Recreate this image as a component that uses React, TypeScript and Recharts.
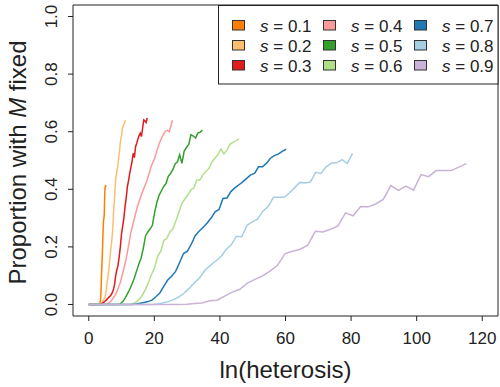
import { LineChart, Line, XAxis, YAxis, Legend, ReferenceArea } from "recharts";

// selection coefficients and their colours (Paired palette)
const sLabels = ["0.1", "0.2", "0.3", "0.4", "0.5", "0.6", "0.7", "0.8", "0.9"];
const colors = ["#FF7F00", "#FDBF6F", "#E31A1C", "#FB9A99", "#33A02C", "#B2DF8A", "#1F78B4", "#A6CEE3", "#CAB2D6"];

// ln(heterosis) added per fixed locus, for each s
const lnStep = [0.105, 0.223, 0.357, 0.511, 0.693, 0.916, 1.204, 1.609, 2.303];

// proportion with M fixed, for 0..50 loci
const prop01 = [0, 0, 0, 0, 0, 0, 0, 0, 0, 0, 0, 0, 0, 0, 0, 0, 0, 0, 0, 0, 0, 0, 0, 0, 0, 0, 0, 0, 0, 0, 0,
  0.001, 0.003, 0.007, 0.015, 0.03, 0.06, 0.1, 0.13, 0.16, 0.19, 0.23, 0.27, 0.29, 0.3, 0.31, 0.36, 0.4, 0.41, 0.41, 0.415];
const prop02 = [0, 0, 0, 0, 0, 0, 0, 0, 0, 0, 0, 0, 0, 0, 0,
  0.001, 0.003, 0.005, 0.007, 0.01, 0.015, 0.02, 0.025, 0.035, 0.05, 0.075, 0.09, 0.11, 0.135, 0.165, 0.188, 0.21, 0.235,
  0.27, 0.32, 0.36, 0.4, 0.44, 0.455, 0.47, 0.485, 0.51, 0.53, 0.56, 0.575, 0.59, 0.612, 0.62, 0.625, 0.63, 0.64];
const prop03 = [0, 0, 0, 0, 0, 0, 0, 0, 0, 0,
  0.001, 0.003, 0.005, 0.008, 0.012, 0.015, 0.02, 0.025, 0.028, 0.033, 0.04, 0.05, 0.068, 0.1, 0.12, 0.135, 0.165, 0.2,
  0.245, 0.272, 0.3, 0.34, 0.37, 0.409, 0.43, 0.455, 0.476, 0.497, 0.525, 0.51, 0.548, 0.56, 0.575, 0.587, 0.595, 0.583,
  0.612, 0.641, 0.638, 0.632, 0.648];
const prop04 = [0, 0, 0, 0, 0, 0, 0, 0, 0, 0, 0,
  0.002, 0.006, 0.01, 0.018, 0.025, 0.035, 0.048, 0.063, 0.08, 0.103, 0.125, 0.15, 0.18, 0.211, 0.246, 0.27, 0.293, 0.316,
  0.339, 0.357, 0.374, 0.39, 0.405, 0.42, 0.435, 0.455, 0.475, 0.49, 0.502, 0.52, 0.54, 0.557, 0.572, 0.585, 0.595, 0.603,
  0.605, 0.6, 0.62, 0.64];
const prop05 = [0, 0, 0, 0, 0, 0, 0, 0, 0, 0, 0, 0, 0, 0,
  0.003, 0.01, 0.022, 0.037, 0.052, 0.07, 0.09, 0.115, 0.14, 0.16, 0.195, 0.238, 0.252, 0.262, 0.275, 0.32, 0.355, 0.38,
  0.395, 0.41, 0.42, 0.445, 0.455, 0.468, 0.488, 0.495, 0.52, 0.49, 0.533, 0.545, 0.556, 0.59, 0.585, 0.578, 0.595, 0.598, 0.606];
const prop06 = [0, 0, 0, 0, 0, 0, 0, 0, 0, 0, 0, 0, 0, 0,
  0.001, 0.004, 0.01, 0.02, 0.035, 0.055, 0.08, 0.107, 0.13, 0.168, 0.185, 0.223, 0.229, 0.252, 0.262, 0.29, 0.32, 0.35,
  0.367, 0.38, 0.398, 0.405, 0.432, 0.432, 0.45, 0.463, 0.472, 0.495, 0.508, 0.52, 0.54, 0.523, 0.535, 0.556, 0.563, 0.568, 0.575];
const prop07 = [0, 0, 0, 0, 0, 0, 0, 0, 0, 0, 0, 0,
  0.002, 0.004, 0.007, 0.01, 0.015, 0.027, 0.04, 0.063, 0.085, 0.098, 0.115, 0.145, 0.177, 0.185, 0.21, 0.24, 0.255, 0.268,
  0.283, 0.3, 0.322, 0.33, 0.368, 0.37, 0.392, 0.405, 0.415, 0.426, 0.438, 0.45, 0.455, 0.478, 0.478, 0.49, 0.508, 0.517,
  0.522, 0.532, 0.539];
const prop08 = [0, 0, 0, 0, 0, 0, 0, 0, 0, 0, 0, 0, 0,
  0.002, 0.005, 0.01, 0.016, 0.025, 0.038, 0.055, 0.075, 0.092, 0.118, 0.135, 0.15, 0.165, 0.19, 0.207, 0.237, 0.235, 0.275,
  0.287, 0.296, 0.324, 0.34, 0.372, 0.372, 0.372, 0.387, 0.405, 0.424, 0.422, 0.425, 0.459, 0.455, 0.478, 0.491, 0.492,
  0.503, 0.49, 0.525];
const prop09 = [0, 0, 0, 0, 0, 0, 0, 0, 0, 0, 0, 0, 0,
  0.001, 0.003, 0.005, 0.013, 0.015, 0.029, 0.043, 0.053, 0.074, 0.087, 0.099, 0.116, 0.136, 0.177, 0.185, 0.192, 0.206,
  0.254, 0.252, 0.261, 0.273, 0.318, 0.308, 0.34, 0.339, 0.349, 0.365, 0.413, 0.396, 0.411, 0.397, 0.451, 0.444, 0.465,
  0.465, 0.465, 0.477, 0.489];

const xTicks = [0, 20, 40, 60, 80, 100, 120];
const yTicks = [0, 0.2, 0.4, 0.6, 0.8, 1.0];

const allProps = [prop01, prop02, prop03, prop04, prop05, prop06, prop07, prop08, prop09];
const seriesData = allProps.map((ys, k) => ys.map((y, i) => ({ x: i * lnStep[k], y })));

const FONT = "'Liberation Sans', Arial, sans-serif";
const INK = "#222";

function XTick({ x, y, payload }: any) {
  return (
    <text x={x} y={y + 21} textAnchor="middle" fontSize={17} fontFamily={FONT} fill={INK}>
      {payload.value}
    </text>
  );
}

function YTick({ x, y, payload }: any) {
  const bx = x - 9;
  return (
    <text x={bx} y={y} transform={`rotate(-90, ${bx}, ${y})`} textAnchor="middle" fontSize={17} fontFamily={FONT} fill={INK}>
      {Number(payload.value).toFixed(1)}
    </text>
  );
}

function XTitle({ viewBox }: any) {
  const cx = viewBox.x + viewBox.width / 2;
  return (
    <text x={cx} y={378} textAnchor="middle" fontSize={24} fontFamily={FONT} fill={INK}>
      ln(heterosis)
    </text>
  );
}

function YTitle({ viewBox }: any) {
  const cy = viewBox.y + viewBox.height / 2 + 2;
  return (
    <text x={26} y={cy} transform={`rotate(-90, 26, ${cy})`} textAnchor="middle" fontSize={24} fontFamily={FONT} fill={INK}>
      Proportion with <tspan fontStyle="italic">M</tspan> fixed
    </text>
  );
}

function LegendBox() {
  return (
    <svg width={281} height={80} style={{ display: "block" }}>
      <rect x={0.5} y={0.5} width={279.5} height={78.5} fill="#fff" stroke={INK} />
      {sLabels.map((s, i) => {
        const col = Math.floor(i / 3);
        const row = i % 3;
        return (
          <g key={s}>
            <rect x={14.5 + col * 91} y={15.5 + row * 20} width={12} height={9.5} fill={colors[i]} stroke="#333" />
            <text x={42 + col * 91} y={26.5 + row * 20} fontSize={17} fontFamily={FONT} fill={INK}>
              <tspan fontStyle="italic">s</tspan> = {s}
            </text>
          </g>
        );
      })}
    </svg>
  );
}

export default function App() {
  return (
    <div style={{ position: "absolute", left: 0, top: 0, background: "#fff" }}>
      <LineChart width={500} height={387} margin={{ top: 5, right: 2, left: 0, bottom: 0 }}>
        <XAxis
          type="number"
          dataKey="x"
          domain={[-4.8, 124.8]}
          ticks={xTicks}
          allowDataOverflow
          axisLine={false}
          tickSize={5}
          tickLine={{ stroke: INK }}
          tick={<XTick />}
          height={71}
          label={<XTitle />}
        />
        <YAxis
          type="number"
          domain={[-0.04, 1.04]}
          ticks={yTicks}
          allowDataOverflow
          axisLine={false}
          tickSize={5}
          tickLine={{ stroke: INK }}
          tick={<YTick />}
          width={73}
          label={<YTitle />}
        />
        <ReferenceArea x1={-4.8} x2={124.8} y1={-0.04} y2={1.04} fill="none" stroke={INK} strokeWidth={1} />
        {seriesData.map((d, k) => (
          <Line
            key={sLabels[k]}
            data={d}
            dataKey="y"
            name={`s = ${sLabels[k]}`}
            stroke={colors[k]}
            strokeWidth={1.5}
            dot={false}
            activeDot={false}
            isAnimationActive={false}
          />
        ))}
        <Legend
          layout="horizontal"
          verticalAlign="middle"
          align="center"
          wrapperStyle={{ left: 218, top: 5, width: 281, height: 80 }}
          content={() => <LegendBox />}
        />
      </LineChart>
    </div>
  );
}
